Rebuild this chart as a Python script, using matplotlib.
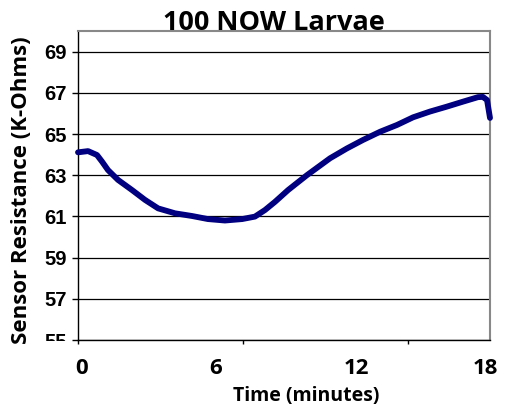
import matplotlib
matplotlib.use("Agg")
import matplotlib.pyplot as plt
from matplotlib.patches import Rectangle

minutes = [0.0, 0.44, 0.83, 1.05, 1.31, 1.75, 2.36, 2.93, 3.50, 4.24, 4.98, 5.68,
           6.42, 7.17, 7.73, 8.17, 8.61, 9.18, 10.0, 11.01, 11.75, 12.45, 13.2,
           13.94, 14.64, 15.38, 16.12, 16.82, 17.48, 17.69, 17.87, 18.0]
resistance = [64.11, 64.17, 63.98, 63.66, 63.25, 62.77, 62.28, 61.8, 61.39, 61.15,
              61.02, 60.87, 60.8, 60.87, 60.99, 61.31, 61.71, 62.28, 63.0, 63.82,
              64.3, 64.71, 65.11, 65.44, 65.81, 66.09, 66.33, 66.57, 66.79, 66.8,
              66.65, 65.78]

y_ticks = [55, 57, 59, 61, 63, 65, 67, 69]
x_labels = ["0", "6", "12", "18"]
x_label_px = [82, 216, 356, 485]
x_tick_marks = [0, 7.2, 14.4]

W, H = 506, 408
fig = plt.figure(figsize=(W / 100, H / 100), dpi=100)
ax = fig.add_axes([78 / W, 1 - 340 / H, (490 - 78) / W, (340 - 31) / H])

ax.plot(minutes, resistance, color="#000080", lw=4.2, solid_capstyle="round",
        solid_joinstyle="round", clip_on=False, zorder=3)

ax.set_xlim(0, 18)
ax.set_ylim(55, 70)
ax.set_yticks(y_ticks)
ax.set_yticklabels([str(v) for v in y_ticks], fontfamily="Liberation Sans",
                   fontweight="bold", fontsize=14.5)
ax.yaxis.grid(True, color="#000000", lw=0.9)
ax.set_axisbelow(True)
ax.tick_params(axis="y", direction="out", length=4.3, width=1, color="#000000", pad=4)

# clip the bottom tick label at the plot bottom like the reference
clip_rect = Rectangle((0, 1 - 341 / H), 1, 341 / H, transform=fig.transFigure,
                      facecolor="none", edgecolor="none")
fig.add_artist(clip_rect)
clip_rect.set_visible(False)
for lab in ax.get_yticklabels():
    lab.set_clip_on(True)
    lab.set_clip_path(clip_rect)

ax.set_xticks(x_tick_marks)
ax.set_xticklabels([])
ax.tick_params(axis="x", direction="out", length=3, width=1, color="#000000")
for lab, px in zip(x_labels, x_label_px):
    fig.text(px / W, 1 - 374 / H, lab, ha="center", va="baseline",
             fontfamily="Open Sans", fontweight="bold", fontsize=16)

for s in ["top", "right"]:
    ax.spines[s].set_color("#888888")
    ax.spines[s].set_linewidth(1.5)
for s in ["left", "bottom"]:
    ax.spines[s].set_color("#000000")
    ax.spines[s].set_linewidth(1.0)

fig.text(274 / W, 1 - 30 / H, "100 NOW Larvae", ha="center", va="baseline",
         fontfamily="Open Sans", fontweight="bold", fontsize=19.5)
fig.text(306 / W, 1 - 401 / H, "Time (minutes)", ha="center", va="baseline",
         fontfamily="Open Sans", fontweight="bold", fontsize=14)
fig.text(22 / W, 1 - 190 / H, "Sensor Resistance (K-Ohms)", ha="center", va="center",
         rotation=90, fontfamily="Open Sans", fontweight="bold", fontsize=16)

fig.savefig("out.png", dpi=100)
